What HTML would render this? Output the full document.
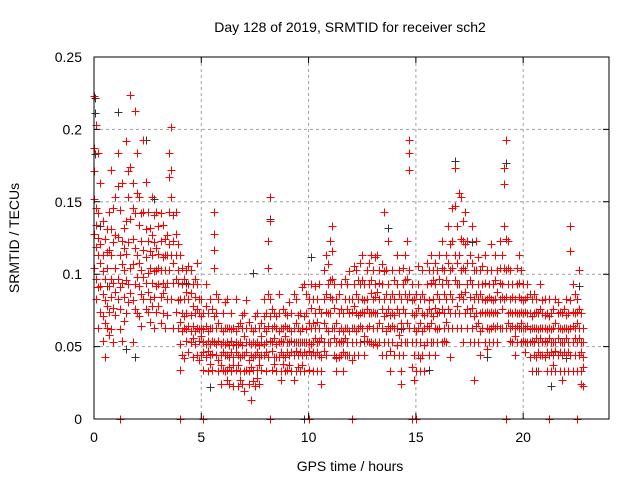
<!DOCTYPE html>
<html><head><meta charset="utf-8"><style>
body{margin:0;background:#fff}
svg{display:block;font-family:"Liberation Sans",sans-serif}
</style></head><body>
<svg id="chart" width="640" height="480" viewBox="0 0 640 480" xmlns="http://www.w3.org/2000/svg">
<rect width="640" height="480" fill="#fff"/>
<g id="grid"></g>
<g id="marks"></g>
<rect x="94" y="57" width="515" height="362" fill="none" stroke="#000" stroke-width="1"/>
<g id="ticks"></g>
<text x="350" y="32" text-anchor="middle" font-size="14">Day 128 of 2019, SRMTID for receiver sch2</text>
<text x="350" y="471" text-anchor="middle" font-size="14">GPS time / hours</text>
<text transform="translate(19,238) rotate(-90)" text-anchor="middle" font-size="14">SRMTID / TECUs</text>
</svg>
<script>
const xTicks=[0,5,10,15,20];
const yTicks=[0,0.05,0.1,0.15,0.2,0.25];
const yTickLabels=["0","0.05","0.1","0.15","0.2","0.25"];
// red series: [hour, values in 0.001 TECU]
const redSeries=[
[0.0,[223,152,104,171,128,187]],[0.1,[203,134,83,119,146,97]],[0.2,[184,113,142,63,91,125]],[0.3,[92,163,121,74,108]],[0.4,[71,113,54,102,86,137]],[0.5,[124,82,43,97,66]],[0.6,[104,63,131,78,115]],[0.7,[143,92,74,117,58]],[0.8,[172,113,62,84,131,97]],[0.9,[122,53,94,77,146]],
[1.0,[153,104,72,88,127]],[1.1,[184,126,83,97,161]],[1.2,[113,62,144,91,76]],[1.3,[94,163,54,123,107]],[1.4,[132,84,103,68,118]],[1.5,[192,114,73,137,96]],[1.6,[153,93,122,171,81]],[1.7,[224,174,104,138,87]],[1.8,[163,124,82,53,107,146]],[1.9,[213,142,93,118,76]],
[2.0,[184,113,73,156,98]],[2.1,[134,92,153,108,71]],[2.2,[103,64,123,86,142]],[2.3,[193,143,83,117,98]],[2.4,[164,112,94,131,76]],[2.5,[123,74,143,101,88]],[2.6,[104,132,83,116,67]],[2.7,[153,94,113,127,78]],[2.8,[84,122,63,102,141]],[2.9,[143,103,74,92,118]],
[3.0,[114,93,133,78,104]],[3.1,[123,84,103,66,142]],[3.2,[94,134,73,112,87]],[3.3,[103,63,124,91,113]],[3.4,[83,113,94,72,127]],[3.5,[184,143,103,167,121]],[3.6,[202,153,83,172,113]],[3.7,[123,94,63,108,141]],[3.8,[113,74,143,97,128]],[3.9,[94,63,103,82,121]],
[4.0,[83,52,34,113,67]],[4.1,[73,44,93,61,104]],[4.2,[63,83,42,71,97]],[4.3,[103,73,54,88,62]],[4.4,[83,64,93,46,106]],[4.5,[72,53,103,61,87]],[4.6,[64,93,43,78,56]],[4.7,[84,52,73,97,61]],[4.8,[93,63,44,76,108]],[4.9,[73,54,83,62,41]],
[5.0,[63,44,83,57,71]],[5.1,[53,73,34,62,46]],[5.2,[64,43,93,52,78]],[5.3,[54,33,73,61,47]],[5.4,[83,44,63,52,38]],[5.5,[63,34,54,76,45]],[5.6,[143,104,53,128,71,117]],[5.7,[73,44,63,52,86]],[5.8,[54,33,83,41,66]],[5.9,[44,63,24,52,37]],
[6.0,[53,73,34,46,61]],[6.1,[44,63,33,52,81]],[6.2,[63,34,53,83,44,27]],[6.3,[43,24,63,51,36]],[6.4,[54,33,73,46,62]],[6.5,[43,63,23,51,37]],[6.6,[34,53,83,46,61]],[6.7,[44,23,64,37,52]],[6.8,[53,33,43,66,27]],[6.9,[63,44,24,51,72]],
[7.0,[44,73,33,57,19]],[7.1,[53,34,63,46,82]],[7.2,[33,53,24,41,67]],[7.3,[44,63,13,52,36]],[7.4,[53,34,43,61,26]],[7.5,[63,23,44,52,71]],[7.6,[34,53,73,46,28]],[7.7,[43,24,63,51,37]],[7.8,[53,34,44,66,57]],[7.9,[63,44,83,52,71]],
[8.0,[53,33,73,46,61]],[8.1,[123,64,43,104,86]],[8.2,[153,83,54,137,71]],[8.3,[53,34,63,47,76]],[8.4,[64,43,73,56,38]],[8.5,[43,63,33,52,71]],[8.6,[73,53,43,61,86]],[8.7,[54,33,63,46,27]],[8.8,[63,44,53,76,38]],[8.9,[43,73,33,57,64]],
[9.0,[53,34,63,46,72]],[9.1,[63,44,53,81,37]],[9.2,[54,73,33,46,61]],[9.3,[44,63,53,27,86]],[9.4,[83,53,33,66,47]],[9.5,[63,44,53,72,36]],[9.6,[53,33,73,46,61]],[9.7,[44,63,53,37,91]],[9.8,[93,53,33,71,46]],[9.9,[73,44,53,62,86]],
[10.0,[83,53,34,66,47]],[10.1,[63,44,93,52,77]],[10.2,[53,83,33,66,46]],[10.3,[73,44,63,92,56]],[10.4,[53,33,83,46,67]],[10.5,[63,93,44,76,54]],[10.6,[43,33,73,56,24]],[10.7,[83,53,103,66,47]],[10.8,[113,63,44,86,74]],[10.9,[93,53,73,61,107]],
[11.0,[123,73,53,96,84]],[11.1,[133,83,63,116,97]],[11.2,[63,44,93,56,77]],[11.3,[53,83,33,66,42]],[11.4,[73,53,43,86,61]],[11.5,[63,93,44,76,54]],[11.6,[53,73,33,61,46]],[11.7,[83,44,63,97,56]],[11.8,[63,93,53,76,44]],[11.9,[73,44,83,61,102]],
[12.0,[53,83,63,74,41]],[12.1,[93,63,44,78,106]],[12.2,[73,103,53,86,61]],[12.3,[63,83,44,72,96]],[12.4,[93,53,73,64,108]],[12.5,[83,63,113,74,96]],[12.6,[73,44,93,57,82]],[12.7,[103,63,83,76,54]],[12.8,[73,53,93,64,108]],[12.9,[113,73,53,87,96]],
[13.0,[83,63,103,74,52]],[13.1,[93,53,73,84,112]],[13.2,[73,113,63,88,51]],[13.3,[83,53,103,66,94]],[13.4,[63,93,44,76,107]],[13.5,[143,83,53,102,71]],[13.6,[73,103,44,86,61]],[13.7,[93,53,123,76,64]],[13.8,[63,83,33,72,47]],[13.9,[103,73,53,86,64]],
[14.0,[83,44,63,96,72]],[14.1,[93,63,113,76,51]],[14.2,[73,44,103,86,58]],[14.3,[53,83,33,66,24]],[14.4,[93,63,44,76,104]],[14.5,[113,73,53,86,96]],[14.6,[83,53,123,66,97]],[14.7,[193,172,103,63,184,86]],[14.8,[93,53,73,36,82]],[14.9,[63,44,83,27,72]],
[15.0,[73,33,53,86,61]],[15.1,[93,63,44,77,106]],[15.2,[53,83,33,66,42]],[15.3,[73,103,44,86,61]],[15.4,[63,33,83,51,72]],[15.5,[93,53,73,64,108]],[15.6,[103,63,44,82,76]],[15.7,[73,113,53,94,66]],[15.8,[83,53,103,71,96]],[15.9,[63,93,44,77,108]],
[16.0,[103,73,53,86,62]],[16.1,[83,113,63,97,74]],[16.2,[93,53,123,76,104]],[16.3,[73,103,63,86,54]],[16.4,[113,83,53,96,67]],[16.5,[93,63,133,76,108]],[16.6,[103,73,43,86,121]],[16.7,[123,83,63,104,146]],[16.8,[173,113,73,147,96]],[16.9,[93,63,133,78,108]],
[17.0,[113,73,93,156,84]],[17.1,[153,103,63,124,86]],[17.2,[123,83,53,104,137]],[17.3,[103,143,73,88,121]],[17.4,[93,63,123,76,108]],[17.5,[113,73,53,96,84]],[17.6,[133,93,63,108,77]],[17.7,[83,53,103,71,27]],[17.8,[103,73,123,86,64]],[17.9,[83,53,93,66,112]],
[18.0,[73,103,44,86,61]],[18.1,[93,63,83,74,106]],[18.2,[113,73,53,94,82]],[18.3,[83,63,103,74,48]],[18.4,[73,93,53,84,62]],[18.5,[103,63,83,74,121]],[18.6,[93,73,53,82,64]],[18.7,[83,113,63,96,74]],[18.8,[103,73,53,88,64]],[18.9,[123,83,63,104,94]],
[19.0,[93,63,113,76,84]],[19.1,[173,133,83,104,162]],[19.2,[193,103,63,124,84]],[19.3,[93,123,73,104,66]],[19.4,[83,63,103,74,54]],[19.5,[73,93,53,84,64]],[19.6,[63,83,44,74,57]],[19.7,[93,53,73,64,104]],[19.8,[113,73,63,94,84]],[19.9,[83,103,53,74,66]],
[20.0,[73,63,93,54,82]],[20.1,[63,83,53,74,46]],[20.2,[73,53,93,64,84]],[20.3,[53,73,43,62,86]],[20.4,[63,83,33,54,71]],[20.5,[73,53,63,44,86]],[20.6,[83,43,63,56,74]],[20.7,[53,73,33,62,46]],[20.8,[63,93,44,76,56]],[20.9,[73,53,63,44,82]],
[21.0,[43,63,83,54,72]],[21.1,[53,33,73,46,62]],[21.2,[63,44,83,56,71]],[21.3,[53,73,33,62,46]],[21.4,[63,44,53,76,37]],[21.5,[83,53,33,66,47]],[21.6,[63,44,73,56,81]],[21.7,[53,33,63,46,74]],[21.8,[73,44,53,62,27]],[21.9,[53,63,33,46,76]],
[22.0,[83,44,63,56,72]],[22.1,[53,33,73,46,62]],[22.2,[133,63,44,116,82]],[22.3,[93,53,33,74,64]],[22.4,[73,44,63,56,86]],[22.5,[83,53,33,66,74]],[22.6,[63,103,44,76,56]],[22.7,[53,33,73,46,24]],[22.8,[43,23,63,36,53]],
[1.2,[0]],[4.0,[0]],[5.1,[0]],[8.2,[0]],[10.0,[0]],[12.0,[0]],[14.8,[0]],[15.0,[0]],[19.2,[0]],[21.2,[0]],[22.5,[0]]
];
const blackSeries=[
[0.05,[222,211,183]],[0.3,[133]],[0.6,[92]],[1.1,[212]],[1.5,[48]],[1.9,[43]],[2.4,[193]],[2.8,[152]],[3.6,[172]],[4.3,[94]],[5.4,[22]],[6.6,[52]],
[7.4,[101]],[8.2,[138]],[8.9,[33]],[9.7,[63]],[10.1,[112]],[11.3,[43]],[12.6,[54]],[13.7,[132]],[14.3,[62]],[15.6,[34]],[16.8,[178]],[17.6,[122]],
[18.3,[43]],[19.2,[177]],[19.9,[63]],[20.6,[33]],[21.3,[23]],[22.0,[42]],[22.6,[92]],[9.8,[0]]
];
const NS="http://www.w3.org/2000/svg";
const L=94,R=609,T=57,B=419,XMAX=24,YMAX=0.25;
function xs(h){return L+(h/XMAX)*(R-L);}
function ys(v){return B-(v/YMAX)*(B-T);}
const grid=document.getElementById('grid'),ticks=document.getElementById('ticks'),marks=document.getElementById('marks'),svg=document.getElementById('chart');
function mk(tag,attrs,parent){const e=document.createElementNS(NS,tag);for(const k in attrs)e.setAttribute(k,attrs[k]);parent.appendChild(e);return e;}
xTicks.forEach(t=>{
  const x=xs(t);
  if(t>0){const g=mk('line',{x1:x,x2:x,y1:T,y2:B,stroke:'#a0a0a0','stroke-dasharray':'3,3'},grid);
  
  }
  const tk=mk('path',{d:`M${x},${B}v-6M${x},${T}v6`,stroke:'#000'},ticks);
  
  
  const lb=mk('text',{x:x,y:442,'text-anchor':'middle','font-size':'14'},svg);
  lb.textContent=String(t);
  
  
});
yTicks.forEach((v,i)=>{
  const y=ys(v);
  if(v>0&&v<YMAX){const g=mk('line',{x1:L,x2:R,y1:y,y2:y,stroke:'#a0a0a0','stroke-dasharray':'3,3'},grid);
  
  }
  const tk=mk('path',{d:`M${L},${y}h6M${R},${y}h-6`,stroke:'#000'},ticks);
  
  
  const lb=mk('text',{x:82,y:y+5,'text-anchor':'end','font-size':'14'},svg);
  lb.textContent=yTickLabels[i];
  
  
});
function drawSeries(series,color,name){
  let d='';
  series.forEach(([h,vals])=>vals.forEach(c=>{
    const x=Math.round(xs(h))+0.5,y=Math.round(ys(c/1000))+0.5;
    d+=`M${x-4},${y}h8M${x},${y-4}v8`;
  }));
  const p=mk('path',{d:d,stroke:color,'stroke-width':'1',fill:'none'},marks);
  
  
}
drawSeries(blackSeries,'#333333','black-series-points');
drawSeries(redSeries,'#ff0000','red-series-points');
</script>
</body></html>
